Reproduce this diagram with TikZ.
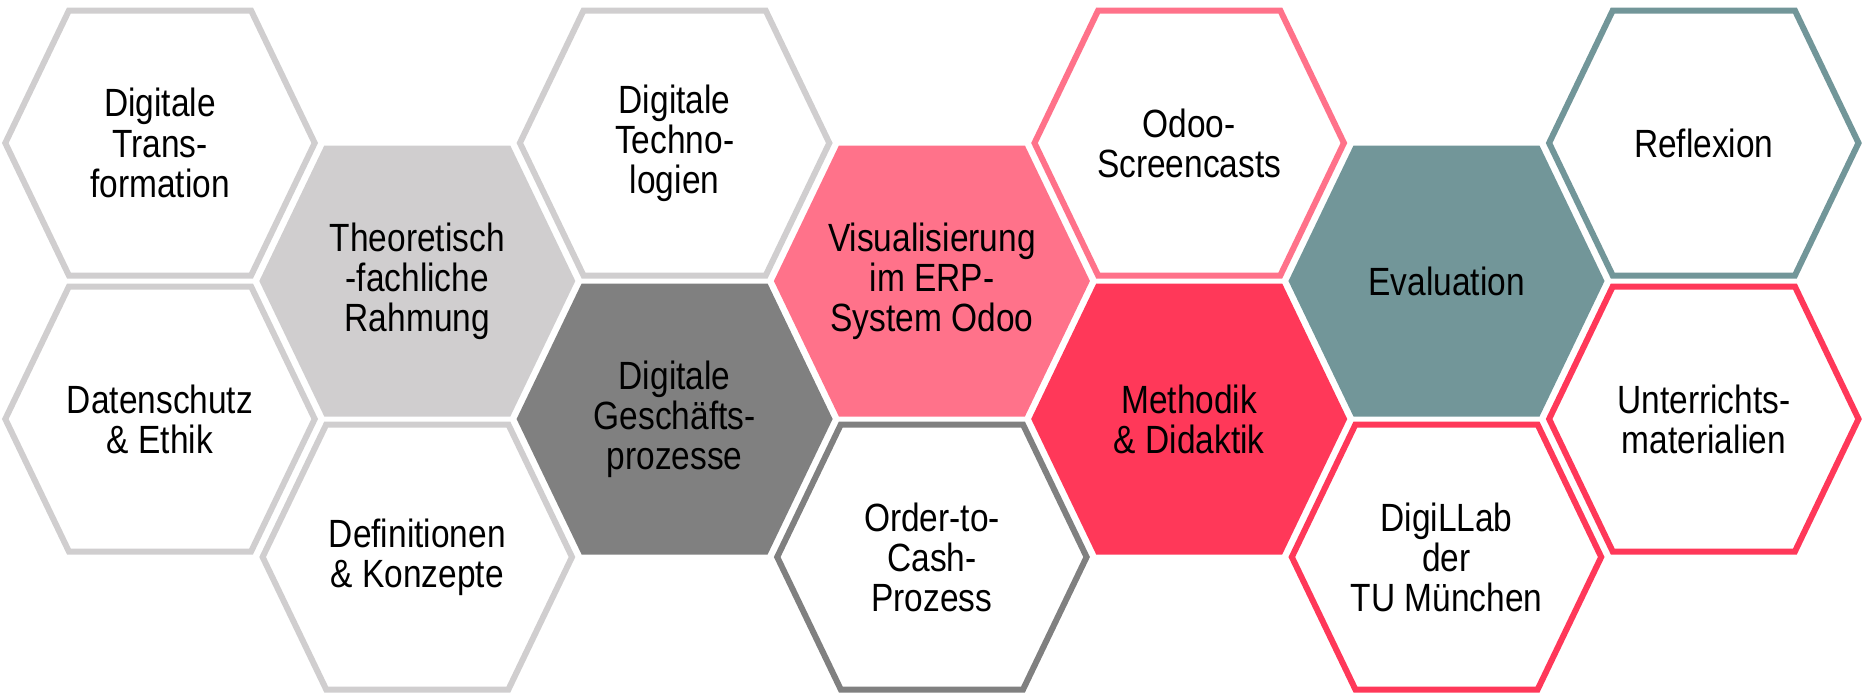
\documentclass[tikz,border=0pt]{standalone}
\usepackage{fontspec}
\setmainfont{Liberation Sans}[FakeStretch=0.85]
\usepackage{xcolor}
\definecolor{hexgray}{RGB}{208,206,207}
\definecolor{hexdark}{RGB}{128,128,128}
\definecolor{hexpink}{RGB}{255,114,138}
\definecolor{hexred}{RGB}{255,56,89}
\definecolor{hexteal}{RGB}{114,150,153}

\begin{document}
\begin{tikzpicture}[x=0.01cm, y=-0.01cm,
        hexcell/.style={line width=0.6mm, line join=miter},
        hexlabel/.style={font=\fontsize{11.2pt}{11.4pt}\selectfont, align=center, text=black, inner sep=0pt}]
        \useasboundingbox (0,0) rectangle (1864,693); % page size of the reference

        % one hexagon per topic: centre x / centre y / outline / fill / name / text
        \foreach \cx/\cy/\dc/\fc/\nm/\txt in {
            160/143/hexgray/white/transformation/{Digitale\\Trans-\\formation},
            160/419/hexgray/white/datenschutz/{Datenschutz\\\& Ethik},
            417.3/281/hexgray/hexgray/rahmung/{Theoretisch\\-fachliche\\Rahmung},
            417.3/557/hexgray/white/definitionen/{Definitionen\\\& Konzepte},
            674.6/143/hexgray/white/technologien/{Digitale\\Techno-\\logien},
            674.6/419/hexdark/hexdark/prozesse/{Digitale\\Geschäfts-\\prozesse},
            931.9/281/hexpink/hexpink/visualisierung/{Visualisierung\\im ERP-\\System Odoo},
            931.9/557/hexdark/white/ordertocash/{Order-to-\\Cash-\\Prozess},
            1189.2/143/hexpink/white/screencasts/{Odoo-\\Screencasts},
            1189.2/419/hexred/hexred/methodik/{Methodik\\\& Didaktik},
            1446.5/281/hexteal/hexteal/evaluation/{Evaluation},
            1446.5/557/hexred/white/digillab/{DigiLLab\\der\\TU München},
            1703.8/143/hexteal/white/reflexion/{Reflexion},
            1703.8/419/hexred/white/materialien/{Unterrichts-\\materialien}}{
            \draw[hexcell, draw=\dc, fill=\fc] (\cx,\cy) ++(-154.7,0) -- ++(63.6,-132.5) -- ++(182.2,0)
                -- ++(63.6,132.5) -- ++(-63.6,132.5) -- ++(-182.2,0) -- cycle; % hexagon outline
            \node[hexlabel] (\nm) at (\cx,\cy) {\txt}; % label in the middle
        }
    \end{tikzpicture}
\end{document}
